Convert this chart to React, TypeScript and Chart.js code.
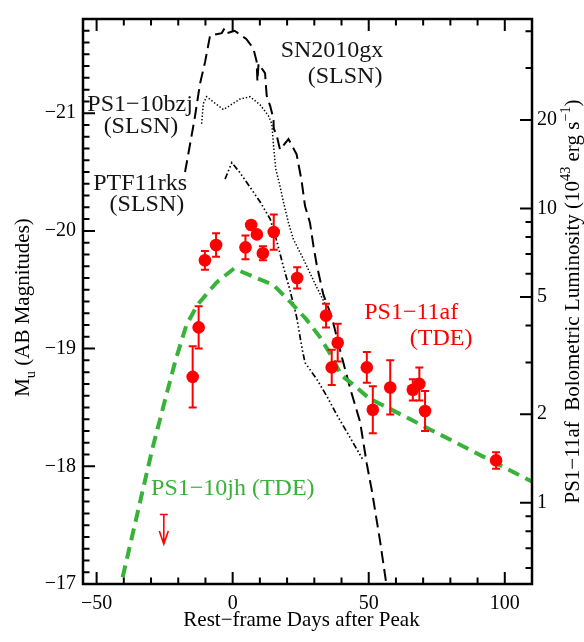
import { useEffect, useRef } from 'react'
import { Chart, registerables } from 'chart.js'

Chart.register(...registerables)

const serif = '"Liberation Serif", "Times New Roman", serif'
const red = '#ff0000'
const green = 'rgb(56, 178, 56)'
const ink = '#151515'

// panel ranges
const dayMin = -55
const dayMax = 110
const magBright = -21.8
const magFaint = -17
const magAtUnitLum = -17.69 // M_u where L = 1e43 erg/s

const xTickValues = [-50, 0, 50, 100]
const magTickValues = [-21, -20, -19, -18, -17]
const lumTickValues = [1, 2, 5, 10, 20]
const lumMinorTicks = [0.6, 0.7, 0.8, 0.9, 3, 4, 6, 7, 8, 9, 30, 40]

// PS1-11af photometry
const afDays = [-14.7, -12.5, -10.2, -6.1, 4.7, 6.8, 8.9, 11.1, 15.1, 23.7, 34.3, 36.4, 38.6, 49.3, 51.5, 57.9, 66.2, 68.6, 70.7, 96.8]
const afMag = [-18.76, -19.18, -19.75, -19.88, -19.86, -20.05, -19.97, -19.81, -19.99, -19.6, -19.28, -18.84, -19.05, -18.84, -18.48, -18.67, -18.65, -18.7, -18.47, -18.05]
const afMagErr = [0.26, 0.18, 0.08, 0.1, 0.1, 0.03, 0.03, 0.06, 0.15, 0.09, 0.1, 0.15, 0.16, 0.13, 0.2, 0.23, 0.09, 0.14, 0.17, 0.07]
const afLimitDay = -25.3
const afLimitMag = -17.59
const limitArrowMag = 0.25

// PS1-10jh (TDE)
const jhDays = [-42, -35, -29.5, -25, -21, -17, -13, -6, 0.5, 15, 21, 27, 32, 36, 40, 44, 50, 110]
const jhMag = [-16.9, -17.6, -18.15, -18.55, -18.9, -19.2, -19.37, -19.56, -19.68, -19.54, -19.4, -19.25, -19.1, -18.95, -18.77, -18.7, -18.58, -17.87]

// SN2010gx (SLSN)
const gxDays = [-17.5, -14, -12, -10.1, -8.3, -4, -3, -2, 0.7, 5, 7.6, 8.8, 9.1, 9.5, 10.1, 11.9, 12.5, 13.8, 15, 15.1, 16.2, 17.4, 20.5, 23.5, 25.3, 26.6, 28.4, 29.7, 30.9, 33.3, 36.4, 40.1, 43.2, 46.8, 49.3, 51.1, 54.2, 56.6]
const gxMag = [-20.5, -20.95, -21.25, -21.44, -21.66, -21.68, -21.72, -21.68, -21.7, -21.63, -21.55, -21.44, -21.27, -21.42, -21.4, -21.34, -21.15, -21.06, -20.95, -20.87, -20.81, -20.69, -20.78, -20.65, -20.43, -20.21, -20.07, -19.87, -19.71, -19.46, -19.27, -18.93, -18.66, -18.38, -18.02, -17.8, -17.36, -16.98]

// PS1-10bzj (SLSN)
const bzjDays = [-11.4, -10.8, -9.6, -3.4, 2.7, 6.4, 10.1, 13.1, 14.4, 15, 15.8, 17.5, 18.6, 20.5, 22.3, 26, 30.9, 34.6]
const bzjMag = [-20.91, -21.08, -21.14, -21.03, -21.12, -21.14, -21.07, -20.98, -20.91, -20.73, -20.53, -20.37, -20.25, -20.07, -19.93, -19.76, -19.52, -19.35]

// PTF11rks (SLSN)
const rksDays = [-2.8, -0.3, 2.5, 6.4, 10, 13.8, 16, 18.6, 21, 23.5, 25.5, 26.6, 30.9, 34.5, 38.2, 43, 48]
const rksMag = [-20.44, -20.58, -20.5, -20.37, -20.25, -20.1, -19.93, -19.7, -19.5, -19.27, -19.0, -18.88, -18.74, -18.6, -18.44, -18.25, -18.05]

const notes = [
  { text: 'SN2010gx', day: 36.5, mag: -21.476, color: ink, align: 'center' },
  { text: '(SLSN)', day: 41.3, mag: -21.26, color: ink, align: 'center' },
  { text: 'PS1−10bzj', day: -34.0, mag: -21.02, color: ink, align: 'center' },
  { text: '(SLSN)', day: -33.7, mag: -20.83, color: ink, align: 'center' },
  { text: 'PTF11rks', day: -34.0, mag: -20.348, color: ink, align: 'center' },
  { text: '(SLSN)', day: -31.5, mag: -20.165, color: ink, align: 'center' },
  { text: 'PS1−11af', day: 65.6, mag: -19.25, color: red, align: 'center' },
  { text: '(TDE)', day: 76.6, mag: -19.03, color: red, align: 'center' },
  { text: 'PS1−10jh (TDE)', day: -30.0, mag: -17.76, color: green, align: 'left' },
]

const lumOf = (m: number) => Math.pow(10, -0.4 * (m - magAtUnitLum))
const pts = (xs: number[], ys: number[]) => xs.map((x, i) => ({ x, y: ys[i] }))
const minus = (v: number) => (v < 0 ? '−' + Math.abs(v) : String(v))

type Run = { text: string; shift?: number; small?: boolean }

function drawRuns(ctx: CanvasRenderingContext2D, runs: Run[], size: number, x: number, y: number, align: string) {
  const fontOf = (r: Run) => `${r.small ? size * 0.68 : size}px ${serif}`
  const widths = runs.map((r) => {
    ctx.font = fontOf(r)
    return ctx.measureText(r.text).width
  })
  const total = widths.reduce((a, b) => a + b, 0)
  let cx = align === 'center' ? x - total / 2 : x
  ctx.textAlign = 'left'
  ctx.textBaseline = 'alphabetic'
  runs.forEach((r, i) => {
    ctx.font = fontOf(r)
    ctx.fillText(r.text, cx, y + (r.shift ?? 0) * size)
    cx += widths[i]
  })
}

const decor = {
  id: 'decor',
  afterDatasetsDraw(chart: any) {
    const { ctx, scales } = chart
    const { x, y } = scales
    ctx.save()
    ctx.strokeStyle = red
    ctx.lineWidth = 2
    afDays.forEach((d, i) => {
      const px = x.getPixelForValue(d)
      const top = y.getPixelForValue(afMag[i] - afMagErr[i])
      const bot = y.getPixelForValue(afMag[i] + afMagErr[i])
      ctx.beginPath()
      ctx.moveTo(px, top)
      ctx.lineTo(px, bot)
      ctx.moveTo(px - 4, top)
      ctx.lineTo(px + 4, top)
      ctx.moveTo(px - 4, bot)
      ctx.lineTo(px + 4, bot)
      ctx.stroke()
    })
    // upper limit arrow
    const lx = x.getPixelForValue(afLimitDay)
    const ly = y.getPixelForValue(afLimitMag)
    const tip = y.getPixelForValue(afLimitMag + limitArrowMag)
    ctx.lineWidth = 1.6
    ctx.beginPath()
    ctx.moveTo(lx - 4, ly)
    ctx.lineTo(lx + 4, ly)
    ctx.moveTo(lx, ly)
    ctx.lineTo(lx, tip)
    ctx.moveTo(lx - 4.5, tip - 13)
    ctx.lineTo(lx, tip)
    ctx.lineTo(lx + 4.5, tip - 13)
    ctx.stroke()
    ctx.restore()
  },
  afterDraw(chart: any) {
    const { ctx, chartArea, scales } = chart
    const { x, y, y2 } = scales
    const { left, right, top, bottom } = chartArea
    ctx.save()
    ctx.strokeStyle = '#000'
    ctx.lineWidth = 2
    ctx.beginPath()
    for (let d = -50; d <= dayMax; d += 10) {
      const len = d % 50 === 0 ? 12 : 6.5
      const px = x.getPixelForValue(d)
      ctx.moveTo(px, bottom)
      ctx.lineTo(px, bottom - len)
      ctx.moveTo(px, top)
      ctx.lineTo(px, top + len)
    }
    for (let k = 0; k <= Math.round((magFaint - magBright) * 10); k++) {
      const m = magBright + k * 0.1
      const major = Math.abs(m - Math.round(m)) < 1e-6
      const py = y.getPixelForValue(m)
      ctx.moveTo(left, py)
      ctx.lineTo(left + (major ? 12 : 6.5), py)
    }
    lumTickValues.forEach((v) => {
      const py = y2.getPixelForValue(v)
      ctx.moveTo(right, py)
      ctx.lineTo(right - 12, py)
    })
    lumMinorTicks.forEach((v) => {
      const py = y2.getPixelForValue(v)
      ctx.moveTo(right, py)
      ctx.lineTo(right - 6.5, py)
    })
    ctx.stroke()
    ctx.lineWidth = 2.5
    ctx.strokeRect(left, top, right - left, bottom - top)

    // annotations
    ctx.font = `24px ${serif}`
    ctx.textBaseline = 'alphabetic'
    notes.forEach((n) => {
      ctx.fillStyle = n.color
      ctx.textAlign = n.align as CanvasTextAlign
      ctx.fillText(n.text, x.getPixelForValue(n.day), y.getPixelForValue(n.mag))
    })

    // axis titles
    ctx.fillStyle = '#000'
    drawRuns(ctx, [{ text: 'Rest−frame Days after Peak' }], 21, (left + right) / 2 - 6, 626, 'center')

    ctx.save()
    ctx.translate(29, (top + bottom) / 2 + 6)
    ctx.rotate(-Math.PI / 2)
    drawRuns(ctx, [{ text: 'M' }, { text: 'u', small: true, shift: 0.28 }, { text: ' (AB Magnitudes)' }], 21, 0, 0, 'center')
    ctx.restore()

    ctx.save()
    ctx.translate(579, (top + bottom) / 2)
    ctx.rotate(-Math.PI / 2)
    drawRuns(
      ctx,
      [
        { text: 'PS1−11af  Bolometric Luminosity (10' },
        { text: '43', small: true, shift: -0.42 },
        { text: ' erg s' },
        { text: '−1', small: true, shift: -0.42 },
        { text: ')' },
      ],
      21,
      0,
      0,
      'center'
    )
    ctx.restore()
    ctx.restore()
  },
}

export default function App() {
  const canvas = useRef<HTMLCanvasElement>(null)

  useEffect(() => {
    if (!canvas.current) return
    const tickFont = { family: serif, size: 20 }
    const chart = new Chart(canvas.current, {
      type: 'line',
      data: {
        datasets: [
          {
            label: 'PS1-11af',
            data: pts(afDays, afMag),
            showLine: false,
            pointRadius: 6.3,
            pointBackgroundColor: red,
            pointBorderWidth: 0,
            borderColor: red,
          },
          {
            label: 'PS1-10jh',
            data: pts(jhDays, jhMag),
            borderColor: green,
            borderWidth: 4,
            borderDash: [12, 7],
            pointRadius: 0,
            tension: 0,
          },
          {
            label: 'SN2010gx',
            data: pts(gxDays, gxMag),
            borderColor: '#000',
            borderWidth: 2,
            borderDash: [12, 6],
            pointRadius: 0,
            tension: 0,
          },
          {
            label: 'PS1-10bzj',
            data: pts(bzjDays, bzjMag),
            borderColor: '#000',
            borderWidth: 1.5,
            borderDash: [1.4, 2],
            pointRadius: 0,
            tension: 0,
          },
          {
            label: 'PTF11rks',
            data: pts(rksDays, rksMag),
            borderColor: '#000',
            borderWidth: 1.7,
            borderDash: [6, 2.5, 1.5, 2.5, 1.5, 2.5, 1.5, 2.5],
            pointRadius: 0,
            tension: 0,
          },
        ],
      },
      options: {
        animation: false,
        responsive: true,
        maintainAspectRatio: false,
        layout: { padding: { top: 8, left: 0, right: 0, bottom: 0 } },
        plugins: { legend: { display: false }, tooltip: { enabled: false } },
        scales: {
          x: {
            type: 'linear',
            min: dayMin,
            max: dayMax,
            grid: { display: false, drawTicks: false },
            border: { display: false },
            ticks: { font: tickFont, color: '#000', padding: 8, autoSkip: false, maxRotation: 0, callback: (v: any) => minus(Number(v)) },
            afterBuildTicks: (s: any) => {
              s.ticks = xTickValues.map((value) => ({ value }))
            },
            afterFit: (s: any) => {
              s.height = 58
            },
          },
          y: {
            type: 'linear',
            position: 'left',
            min: magBright,
            max: magFaint,
            reverse: true,
            grid: { display: false, drawTicks: false },
            border: { display: false },
            ticks: { font: tickFont, color: '#000', padding: 7, autoSkip: false, callback: (v: any) => minus(Number(v)) },
            afterBuildTicks: (s: any) => {
              s.ticks = magTickValues.map((value) => ({ value }))
            },
            afterFit: (s: any) => {
              s.width = 83
            },
          },
          y2: {
            type: 'logarithmic',
            position: 'right',
            bounds: 'data',
            min: lumOf(magFaint),
            max: lumOf(magBright),
            grid: { display: false, drawTicks: false },
            border: { display: false },
            ticks: { font: tickFont, color: '#000', padding: 5, autoSkip: false, callback: (v: any) => String(v) },
            afterBuildTicks: (s: any) => {
              s.ticks = lumTickValues.map((value) => ({ value }))
            },
            afterFit: (s: any) => {
              s.width = 52
            },
          },
        },
      },
      plugins: [decor],
    } as any)

    return () => {
      chart.destroy()
    }
  }, [])

  return (
    <div style={{ position: 'fixed', left: 0, top: 0, width: 584, height: 642, background: '#fff' }}>
      <canvas ref={canvas} />
    </div>
  )
}
